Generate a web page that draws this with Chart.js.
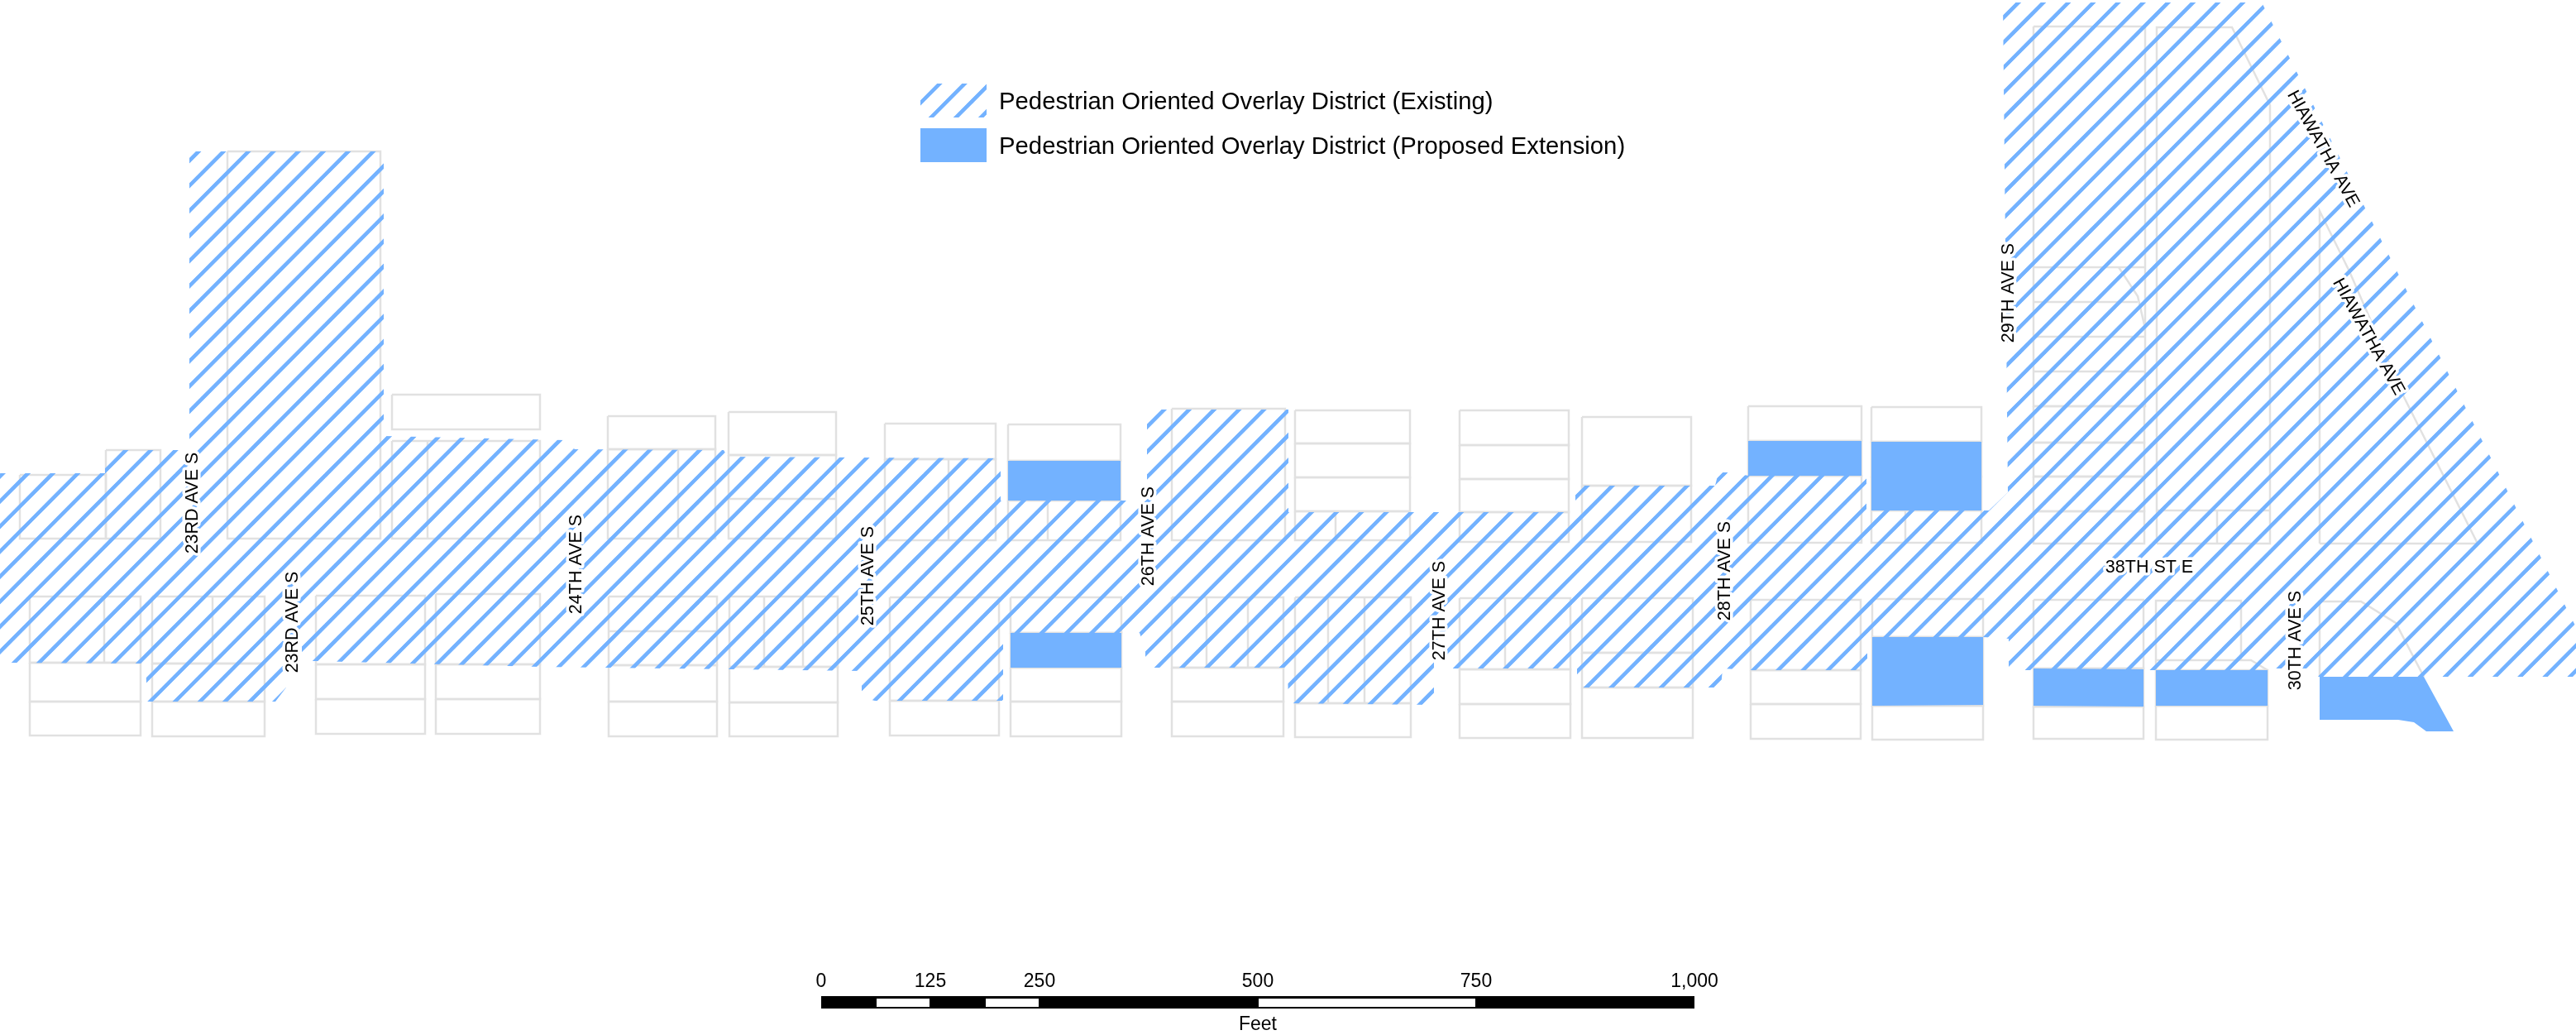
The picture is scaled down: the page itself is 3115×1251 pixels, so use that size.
<!DOCTYPE html>
<html>
<head>
<meta charset="utf-8">
<title>Pedestrian Oriented Overlay District</title>
<script src="https://cdn.jsdelivr.net/npm/chart.js@4"></script>
<style>
    html, body { margin: 0; padding: 0; background: #fff; }
    canvas { display: block; }
</style>
</head>
<body>
<canvas id="map" width="3115" height="1251"></canvas>
<script>
// map coordinates
const existingDistrict = [
    [0,572],[127,572],[127,544],[229,544],[229,183],[464,183],[464,527],[683,532],[695,543],[875,544],
    [880,552],[1040,553],[1210,554],[1210,605],[1362,605],[1378,615],[1378,595],[1387,595],[1387,495],
    [1558,495],[1558,619],[1905,619],[1905,587],[2074,587],[2078,571],[2088,571],[2115,575],[2257,575],
    [2257,617],[2405,617],[2428,595],[2422,3],[2735,3],[3115,758],[3115,818],[2804,818],[2790,808],
    [2752,808],[2742,810],[2429,810],[2429,772],[2398,770],[2258,770],[2258,810],[2117,810],[2083,808],
    [2081,831],[1907,831],[1907,808],[1757,808],[1757,795],[1734,795],[1734,852],[1558,850],[1557,807],
    [1385,807],[1385,785],[1378,765],[1213,765],[1213,847],[1058,847],[1042,843],[1042,811],[653,806],
    [381,799],[365,799],[365,780],[346,780],[346,831],[333,848],[178,848],[176,802],[0,801]
];
const proposedBlocks = [
    [[1219,557],[1355,557],[1355,605],[1219,605]],
    [[1222,765],[1356,765],[1356,807],[1222,807]],
    [[2114,533],[2251,533],[2251,575],[2114,575]],
    [[2263,534],[2396,534],[2396,617],[2263,617]],
    [[2264,770],[2398,770],[2398,852],[2264,853]],
    [[2459,808],[2592,809],[2592,854],[2459,853]],
    [[2607,810],[2742,810],[2742,853],[2607,853]],
    [[2805,818],[2931,818],[2967,884],[2934,884],[2919,873],[2900,870],[2805,870]]
];
const parcelRects = [
    [24,574,128,651],[128,544,194,651],[275,183,460,651],[474,533,653,651],[474,477,653,519],
    [735,543,865,651],[735,503,865,543],[881,550,1011,651],[881,498,1011,550],
    [36,721,170,801],[36,801,170,848],[36,848,170,889],[184,721,320,802],[184,802,320,848],[184,848,320,890],
    [382,720,514,803],[382,803,514,845],[382,845,514,887],[527,718,653,803],[527,803,653,845],[527,845,653,887],
    [736,721,867,804],[736,804,867,848],[736,848,867,890],[882,721,1013,806],[882,806,1013,849],[882,849,1013,890],
    [1070,512,1204,555],[1070,555,1204,653],[1219,513,1355,557],[1219,557,1355,605],[1219,605,1355,653],
    [1417,494,1554,653],[1566,496,1705,536],[1566,536,1705,577],[1566,577,1705,618],[1566,618,1705,653],
    [1765,496,1897,538],[1765,538,1897,579],[1765,579,1897,619],[1765,619,1897,655],
    [1913,504,2045,587],[1913,587,2045,655],
    [1076,722,1208,847],[1076,847,1208,889],[1222,722,1356,765],[1222,765,1356,807],[1222,807,1356,848],[1222,848,1356,890],
    [1417,722,1552,807],[1417,807,1552,848],[1417,848,1552,890],[1566,722,1706,850],[1566,850,1706,891],
    [1765,723,1899,809],[1765,809,1899,851],[1765,851,1899,892],[1913,723,2047,789],[1913,789,2047,831],[1913,831,2047,892],
    [2114,491,2251,533],[2114,533,2251,575],[2114,575,2251,656],[2263,492,2396,534],[2263,534,2396,576],[2263,576,2396,617],[2263,617,2396,656],
    [2117,725,2250,810],[2117,810,2250,851],[2117,851,2250,893],[2264,724,2398,770],[2264,770,2398,853],[2264,853,2398,894],
    [2459,32,2594,491],[2459,491,2593,535],[2459,535,2593,576],[2459,576,2593,618],[2459,618,2593,657],
    [2459,725,2592,808],[2459,808,2592,854],[2459,854,2592,893],[2607,810,2742,853],[2607,853,2742,894]
];
const parcelLines = [
    [[517,533],[517,651]],[[820,543],[820,651]],[[881,603],[1011,603]],[[126,721],[126,801]],[[257,721],[257,802]],
    [[736,763],[867,763]],[[924,721],[924,806]],[[971,721],[971,806]],[[1147,555],[1147,653]],[[1267,605],[1267,653]],
    [[1615,618],[1615,653]],[[1459,722],[1459,807]],[[1509,722],[1509,807]],[[1606,722],[1606,850]],[[1650,722],[1650,850]],
    [[1820,723],[1820,809]],[[2304,617],[2304,656]],
    [[2459,323],[2594,323]],[[2459,365],[2585,365]],[[2459,407],[2594,407]],[[2459,449],[2594,449]],
    [[2562,323],[2585,358],[2594,397]],
    [[2608,657],[2608,33],[2699,33],[2745,127],[2745,657],[2608,657]],[[2608,617],[2745,617]],[[2681,617],[2681,657]],
    [[2805,657],[2805,255],[2841,328],[2907,480],[2996,657],[2805,657]],
    [[2607,810],[2607,726],[2710,726],[2710,798]],[[2607,798],[2722,798],[2742,810]],
    [[2805,818],[2805,727],[2855,727],[2897,753],[2931,818]]
];

const districtLabels = ['Pedestrian Oriented Overlay District (Existing)', 'Pedestrian Oriented Overlay District (Proposed Extension)'];
const streetNames = ['23RD AVE S','23RD AVE S','24TH AVE S','25TH AVE S','26TH AVE S','27TH AVE S','28TH AVE S','29TH AVE S','30TH AVE S','38TH ST E','HIAWATHA AVE','HIAWATHA AVE'];
const scaleTicks = [0,125,250,500,750,1000];
const scaleWhiteFeet = [[62.5,125],[187.5,250],[500,750]];

const MAP_W = 3115, MAP_H = 1251;
const BLUE = '#73b2ff';
const GREY = '#e1e1e1';

// where the text sits on the map, same order as streetNames: x, y, angle
const streetAnchors = [
    [233.5,608,-90],[354.5,752,-90],[697.5,682,-90],[1050.5,696,-90],[1389.5,648,-90],[1741.5,738,-90],
    [2086.5,690,-90],[2429.5,354,-90],[2776.5,774,-90],[2599,686,0],[2809,180,61],[2864,407,61]
];

function pts(list) {
    return list.map(p => ({ x: p[0], y: p[1] }));
}
function closed(list) {
    return pts(list.concat([list[0]]));
}
function rectPts(r) {
    return closed([[r[0],r[1]],[r[2],r[1]],[r[2],r[3]],[r[0],r[3]]]);
}

// diagonal hatch, tile is one period of the lines
function makeHatch(ctx) {
    const size = 60, periodX = 30.17, periodY = 30.3;
    const tile = document.createElement('canvas');
    tile.width = size;
    tile.height = size;
    const t = tile.getContext('2d');
    t.strokeStyle = BLUE;
    t.lineWidth = 9.2;
    [[-size, size, size, -size], [-size, size * 2, size * 2, -size], [0, size * 2, size * 2, 0]].forEach(l => {
        t.beginPath();
        t.moveTo(l[0], l[1]);
        t.lineTo(l[2], l[3]);
        t.stroke();
    });
    const pattern = ctx.createPattern(tile, 'repeat');
    pattern.setTransform(new DOMMatrix().scale(periodX / size, periodY / size));
    return pattern;
}

const canvas = document.getElementById('map');
const ctx = canvas.getContext('2d');
const hatch = makeHatch(ctx);

function outline(data, color, width) {
    return { data: data, showLine: true, fill: false, borderColor: color, borderWidth: width, pointRadius: 0, tension: 0 };
}
function filled(label, data, color) {
    return { label: label, data: data, showLine: true, fill: 'shape', backgroundColor: color, borderWidth: 0, borderColor: 'transparent', pointRadius: 0, tension: 0 };
}

const datasets = [];
parcelRects.forEach(r => datasets.push(outline(rectPts(r), GREY, 2.5)));
parcelLines.forEach(l => datasets.push(outline(pts(l), GREY, 2.5)));
datasets.push(filled(districtLabels[0], closed(existingDistrict), hatch));
proposedBlocks.forEach(b => datasets.push(filled(districtLabels[1], closed(b), BLUE)));

// scale bar, built in feet (1,000 ft = 1056 map units)
const BAR_X = 993, FOOT = 1.056;
const barBlack = [BAR_X + scaleTicks[0] * FOOT, 1204, BAR_X + scaleTicks[5] * FOOT, 1219];
datasets.push(filled('scale', rectPts(barBlack), '#000'));
scaleWhiteFeet.forEach(s => {
    datasets.push(filled('scale', rectPts([BAR_X + s[0] * FOOT + 1, 1207, BAR_X + s[1] * FOOT - 1, 1217]), '#fff'));
});
// chart.js paints the first dataset last
datasets.reverse();

const mapText = {
    id: 'mapText',
    afterDatasetsDraw(chart) {
        const c = chart.ctx, xs = chart.scales.x, ys = chart.scales.y;
        c.save();
        c.textBaseline = 'middle';

        // street names with white halo
        c.font = '21.5px "Liberation Sans"';
        c.textAlign = 'center';
        c.lineJoin = 'round';
        streetNames.forEach((name, i) => {
            const a = streetAnchors[i];
            c.save();
            c.translate(xs.getPixelForValue(a[0]), ys.getPixelForValue(a[1]));
            c.rotate(a[2] * Math.PI / 180);
            c.strokeStyle = '#fff';
            c.lineWidth = 7;
            c.strokeText(name, 0, 0);
            c.fillStyle = '#000';
            c.fillText(name, 0, 0);
            c.restore();
        });

        // legend
        c.fillStyle = hatch;
        c.fillRect(xs.getPixelForValue(1113), ys.getPixelForValue(101), 80, 41);
        c.fillStyle = BLUE;
        c.fillRect(xs.getPixelForValue(1113), ys.getPixelForValue(155), 80, 41);
        c.fillStyle = '#000';
        c.font = '29.3px "Liberation Sans"';
        c.textAlign = 'left';
        c.fillText(districtLabels[0], xs.getPixelForValue(1208), ys.getPixelForValue(124));
        c.fillText(districtLabels[1], xs.getPixelForValue(1208), ys.getPixelForValue(178));

        // scale bar text
        c.font = '23px "Liberation Sans"';
        c.textAlign = 'center';
        scaleTicks.forEach(t => {
            c.fillText(t.toLocaleString('en-US'), xs.getPixelForValue(BAR_X + t * FOOT), ys.getPixelForValue(1187));
        });
        c.fillText('Feet', xs.getPixelForValue(1521), ys.getPixelForValue(1239));
        c.restore();
    }
};

new Chart(ctx, {
    type: 'scatter',
    data: { datasets: datasets },
    options: {
        responsive: false,
        animation: false,
        devicePixelRatio: 1,
        layout: { padding: 0 },
        scales: {
            x: { type: 'linear', display: false, min: 0, max: MAP_W },
            y: { type: 'linear', display: false, min: 0, max: MAP_H, reverse: true }
        },
        plugins: {
            legend: { display: false },
            tooltip: { enabled: false }
        }
    },
    plugins: [mapText]
});
</script>
</body>
</html>
